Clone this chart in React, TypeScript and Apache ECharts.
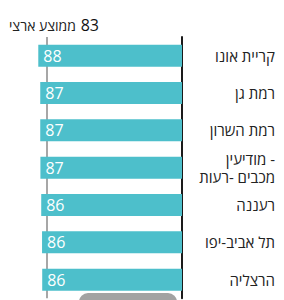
import React, { useEffect, useRef } from "react";
import * as echarts from "echarts";

const cities = [
  "קריית אונו",
  "רמת גן",
  "רמת השרון",
  "מודיעין -\nמכבים -רעות",
  "רעננה",
  "תל אביב-יפו",
  "הרצליה",
];
const scores = [87.9, 86.7, 86.7, 86.6, 86.1, 85.6, 85.5];
const nationalAverage = 83;
const titleLabel = "ממוצע ארצי";

export default function App() {
  const ref = useRef<HTMLDivElement>(null);
  useEffect(() => {
    document.body.style.margin = "0";
    const chart = echarts.init(ref.current!, null, { renderer: "svg" });
    chart.setOption({
      animation: false,
      textStyle: { fontFamily: "Open Sans" },
      title: {
        text: `{a|${titleLabel}} {b|${nationalAverage}}`,
        left: 4,
        top: 11,
        textStyle: {
          fontWeight: "normal",
          rich: {
            a: { fontFamily: "Open Sans", fontSize: 14, color: "#222", fontWeight: "normal" },
            b: { fontFamily: "Open Sans", fontSize: 16, color: "#111", fontWeight: 500 },
          },
        },
      },
      grid: { left: 18.5, right: 102, top: 37, bottom: 1.7 },
      xAxis: {
        type: "value",
        min: 0,
        max: 100,
        inverse: true,
        show: false,
      },
      yAxis: {
        type: "category",
        data: cities,
        inverse: true,
        position: "right",
        axisLine: { show: true, lineStyle: { color: "#1a1a1a", width: 2 } },
        axisTick: { show: false },
        axisLabel: {
          align: "right",
          margin: 93,
          fontFamily: "Open Sans",
          fontSize: 15,
          color: "#222",
          lineHeight: 18,
        },
      },
      series: [
        {
          type: "bar",
          data: scores,
          barWidth: 22,
          itemStyle: { color: "#4DBFCB" },
          z: 3,
          label: {
            show: true,
            position: "insideLeft",
            distance: 5,
            color: "#fff",
            fontFamily: "Open Sans",
            fontSize: 16,
            formatter: (p: any) => String(Math.round(p.value)),
          },
          markLine: {
            silent: true,
            symbol: "none",
            label: { show: false },
            lineStyle: { color: "#8a8a8a", width: 1.5, type: "solid" },
            z: 1,
            data: [{ xAxis: nationalAverage }],
          },
        },
      ],
      graphic: [
        {
          type: "rect",
          shape: { x: 79, y: 293, width: 98, height: 24, r: 9 },
          style: { fill: "#a2a2a2" },
          z: 10,
        },
      ],
    });
    return () => chart.dispose();
  }, []);
  return (
    <div
      ref={ref}
      style={{ position: "fixed", left: 0, top: 0, width: 284, height: 300, background: "#fff" }}
    />
  );
}
